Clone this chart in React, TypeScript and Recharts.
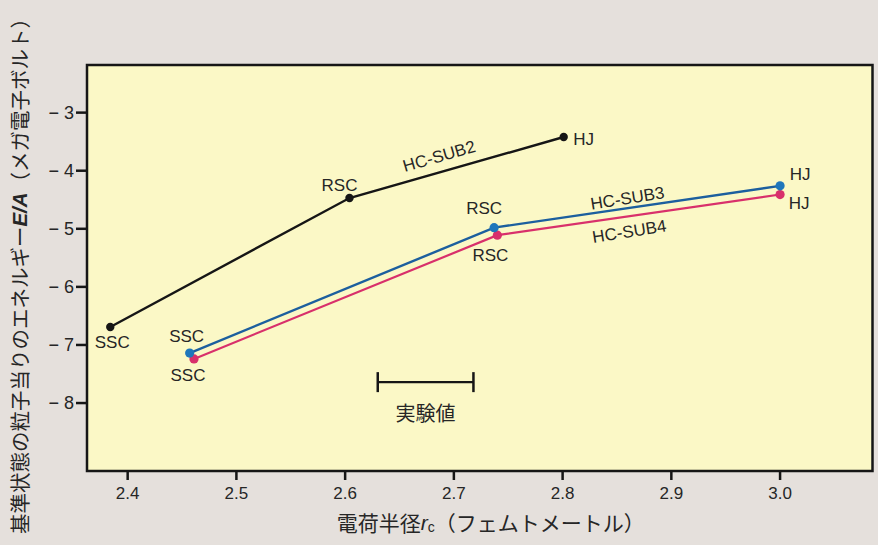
import React from 'react';
import { LineChart, Line, XAxis, YAxis, LabelList, ReferenceArea, ReferenceDot } from 'recharts';

// charge radius r_c (fm) and energy per nucleon E/A (MeV) for each model
const POINT_NAMES = ['SSC', 'RSC', 'HJ'];

const SUB2_R = [2.384, 2.604, 2.801];
const SUB2_E = [-6.69, -4.47, -3.42];

const SUB3_R = [2.457, 2.737, 3.0];
const SUB3_E = [-7.14, -4.98, -4.26];

const SUB4_R = [2.461, 2.740, 3.0];
const SUB4_E = [-7.24, -5.11, -4.41];

// measured charge radius range
const EXP_R = [2.630, 2.718];
const EXP_E = -7.64;

const R_TICKS = [2.4, 2.5, 2.6, 2.7, 2.8, 2.9, 3.0];
const E_TICKS = [-3, -4, -5, -6, -7, -8];

const X_DOMAIN = [2.3626, 3.085];
const Y_DOMAIN = [-9.17, -2.18];

const INK = '#262626';
const BLACK = '#161616';
const BLUE = '#1c5f9e';
const BLUE_DOT = '#1f76bb';
const PINK = '#d8306b';
const PAPER = '#e5e0dc';
const PANEL = '#fbf8c6';
const SANS = '"Liberation Sans", Arial, sans-serif';
const JP = '"Noto Sans CJK JP", "Noto Sans", sans-serif';

const toRows = (rs: number[], es: number[]) =>
  rs.map((r, i) => ({ r, e: es[i], name: POINT_NAMES[i] }));

const sub2 = toRows(SUB2_R, SUB2_E);
const sub3 = toRows(SUB3_R, SUB3_E);
const sub4 = toRows(SUB4_R, SUB4_E);
const expRange = EXP_R.map((r) => ({ r, e: EXP_E }));

// label offsets from each dot, in order SSC / RSC / HJ
const SUB2_TAGS = [[2, 16], [-10, -13], [20, 2]];
const SUB3_TAGS = [[-3, -17], [-10, -19], [20, -11]];
const SUB4_TAGS = [[-6, 17], [-7, 20], [19, 9]];

const pointTag = (offsets: number[][]) => (props: any) => {
  const { x, y, value } = props;
  const idx = POINT_NAMES.indexOf(value);
  const [dx, dy] = offsets[idx < 0 ? 0 : idx];
  return (
    <text x={x + dx} y={y + dy} textAnchor="middle" dominantBaseline="central"
      fontSize={17} fontFamily={SANS} fill={INK}>
      {value}
    </text>
  );
};

const CapDot = (props: any) => {
  const { cx, cy } = props;
  return <line x1={cx} x2={cx} y1={cy - 10} y2={cy + 10} stroke={BLACK} strokeWidth={2.5} />;
};

const YTitle = ({ viewBox }: any) => {
  const x = viewBox.x + 19;
  const y = viewBox.y + viewBox.height / 2 + 3;
  return (
    <text x={x} y={y} transform={`rotate(-90 ${x} ${y})`} textAnchor="middle"
      dominantBaseline="central" fontSize={20.5} fontFamily={JP} fill={INK}>
      基準状態の粒子当りのエネルギー
      <tspan fontFamily={SANS} fontStyle="italic" fontWeight="bold">E/A</tspan>
      （メガ電子ボルト）
    </text>
  );
};

const XTitle = ({ viewBox }: any) => {
  const x = viewBox.x + viewBox.width / 2 + 11;
  const y = viewBox.y + 51;
  return (
    <text x={x} y={y} textAnchor="middle" dominantBaseline="central"
      fontSize={21} fontFamily={JP} fill={INK}>
      電荷半径
      <tspan fontFamily={SANS} fontStyle="italic">r</tspan>
      <tspan fontFamily={SANS} fontSize={14} dy={5}>c</tspan>
      <tspan dy={-5}>（フェムトメートル）</tspan>
    </text>
  );
};

const lineLabel = (text: string, angle: number) => ({
  value: text, angle, position: 'center' as const,
  fontSize: 17, fontFamily: SANS, fill: INK,
});

export default function App() {
  return (
    <div style={{ position: 'absolute', left: 0, top: 0, width: 878, height: 545, background: PAPER }}>
      <LineChart width={878} height={545} margin={{ top: 65, right: 5.5, bottom: 44, left: 0 }}>
        <XAxis
          type="number"
          dataKey="r"
          domain={X_DOMAIN}
          ticks={R_TICKS}
          allowDataOverflow
          height={30}
          axisLine={false}
          tickSize={9}
          tickMargin={7}
          tickLine={{ stroke: BLACK, strokeWidth: 2.5 }}
          tick={{ fontSize: 17, fontFamily: SANS, fill: INK }}
          tickFormatter={(v: number) => v.toFixed(1)}
          label={<XTitle />}
        />
        <YAxis
          type="number"
          dataKey="e"
          domain={Y_DOMAIN}
          ticks={E_TICKS}
          allowDataOverflow
          width={87}
          axisLine={false}
          tickSize={11}
          tickMargin={2}
          tickLine={{ stroke: BLACK, strokeWidth: 2.5 }}
          tick={{ fontSize: 18, fontFamily: SANS, fill: INK }}
          tickFormatter={(v: number) => `\u2212 ${Math.abs(v)}`}
          label={<YTitle />}
        />
        <ReferenceArea
          x1={X_DOMAIN[0]} x2={X_DOMAIN[1]} y1={Y_DOMAIN[0]} y2={Y_DOMAIN[1]}
          fill={PANEL} fillOpacity={1} stroke={BLACK} strokeWidth={2.5} ifOverflow="visible"
        />

        <Line data={sub2} dataKey="e" type="linear" stroke={BLACK} strokeWidth={2.4}
          dot={{ r: 4.2, fill: BLACK, strokeWidth: 0 }} isAnimationActive={false}>
          <LabelList dataKey="name" content={pointTag(SUB2_TAGS)} />
        </Line>
        <Line data={sub4} dataKey="e" type="linear" stroke={PINK} strokeWidth={2.2}
          dot={{ r: 4.6, fill: PINK, strokeWidth: 0 }} isAnimationActive={false}>
          <LabelList dataKey="name" content={pointTag(SUB4_TAGS)} />
        </Line>
        <Line data={sub3} dataKey="e" type="linear" stroke={BLUE} strokeWidth={2.4}
          dot={{ r: 4.6, fill: BLUE_DOT, strokeWidth: 0 }} isAnimationActive={false}>
          <LabelList dataKey="name" content={pointTag(SUB3_TAGS)} />
        </Line>

        <Line data={expRange} dataKey="e" type="linear" stroke={BLACK} strokeWidth={2.2}
          dot={<CapDot />} isAnimationActive={false} />

        <ReferenceDot x={2.6864} y={-3.746} r={0} stroke="none" label={lineLabel('HC-SUB2', -16)} />
        <ReferenceDot x={2.8595} y={-4.47} r={0} stroke="none" label={lineLabel('HC-SUB3', -9)} />
        <ReferenceDot x={2.8613} y={-5.04} r={0} stroke="none" label={lineLabel('HC-SUB4', -9)} />
        <ReferenceDot x={(EXP_R[0] + EXP_R[1]) / 2} y={EXP_E} r={0} stroke="none"
          label={{ value: '実験値', position: 'center', dy: 32, fontSize: 20, fontFamily: JP, fill: INK }} />
      </LineChart>
    </div>
  );
}
